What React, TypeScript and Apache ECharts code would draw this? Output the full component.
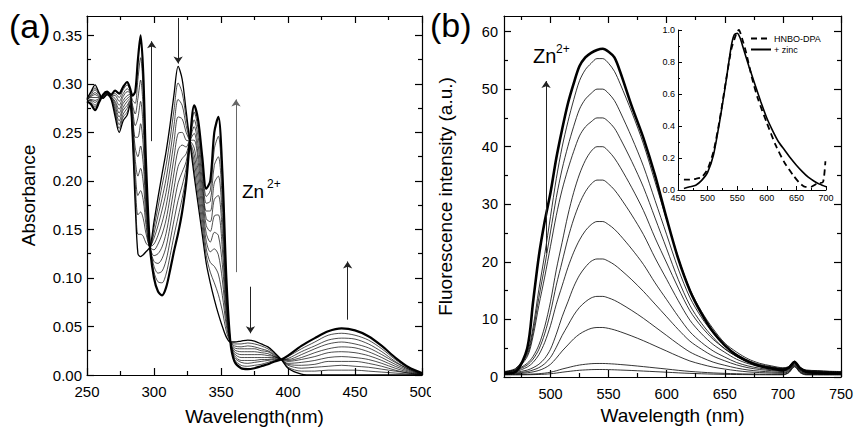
import { useEffect, useRef } from "react";
import * as echarts from "echarts";

const FONT = "'Liberation Sans', Arial, Helvetica, sans-serif";

// ---------- Panel (a): absorbance titration ----------
const absWavelengths = [250,253,256,259,262,265,268,271,274,277,280,282,284,286,288,290,292,294,297,300,303,306,309,312,315,318,321,324,327,330,333,336,339,342,345,348,351,354,357,360,365,370,375,380,385,390,395,400,410,420,430,440,450,460,470,480,490,500];
const absInitial = [.285,.292,.299,.291,.285,.289,.284,.266,.250,.262,.268,.278,.240,.175,.125,.122,.124,.127,.132,.158,.183,.207,.230,.258,.290,.318,.305,.272,.238,.205,.175,.145,.115,.095,.078,.063,.050,.039,.034,.034,.035,.036,.035,.032,.029,.023,.016,.007,.001,0,0,0,0,0,0,0,0,0];
const absStep1 = [.285,.291,.296,.290,.285,.289,.285,.269,.254,.266,.271,.280,.245,.187,.145,.145,.143,.136,.132,.152,.173,.195,.216,.243,.274,.301,.291,.265,.239,.212,.184,.153,.123,.106,.095,.083,.066,.045,.034,.032,.032,.033,.032,.030,.027,.022,.016,.008,.004,.004,.005,.005,.005,.004,.003,.002,.001,0];
const absStep2 = [.284,.289,.294,.289,.286,.290,.285,.271,.258,.269,.275,.282,.250,.198,.165,.168,.161,.146,.132,.146,.164,.182,.202,.228,.258,.284,.278,.257,.239,.220,.192,.161,.130,.116,.112,.104,.082,.051,.034,.030,.029,.030,.029,.027,.025,.021,.016,.010,.007,.008,.009,.010,.009,.008,.006,.004,.002,0];
const absStep3 = [.284,.288,.291,.288,.286,.290,.286,.274,.262,.273,.278,.283,.254,.210,.185,.190,.180,.155,.132,.141,.154,.170,.188,.213,.241,.266,.264,.250,.240,.227,.201,.169,.138,.127,.130,.124,.098,.057,.034,.028,.027,.027,.027,.025,.024,.020,.016,.011,.010,.011,.014,.014,.014,.012,.009,.005,.002,.001];
const absStep4 = [.284,.287,.289,.287,.287,.290,.286,.277,.266,.276,.282,.285,.259,.222,.205,.213,.198,.164,.132,.135,.144,.157,.174,.198,.225,.249,.250,.242,.241,.234,.210,.177,.146,.137,.147,.144,.114,.063,.034,.026,.024,.024,.024,.023,.022,.019,.016,.012,.013,.015,.018,.019,.018,.016,.012,.007,.003,.001];
const absStep5 = [.284,.286,.286,.286,.287,.291,.287,.280,.270,.280,.285,.287,.264,.234,.225,.236,.217,.174,.132,.129,.135,.145,.160,.183,.209,.232,.237,.235,.242,.242,.219,.185,.154,.148,.164,.165,.130,.070,.034,.024,.021,.021,.021,.021,.020,.019,.016,.014,.016,.019,.023,.024,.023,.020,.015,.009,.004,.001];
const absStep6 = [.283,.284,.283,.285,.287,.291,.287,.282,.274,.283,.288,.289,.269,.245,.245,.259,.236,.183,.132,.123,.125,.132,.146,.168,.193,.215,.223,.228,.242,.249,.227,.193,.161,.158,.181,.185,.146,.076,.034,.022,.018,.018,.018,.018,.018,.018,.016,.015,.018,.023,.027,.029,.028,.024,.018,.011,.005,.001];
const absStep7 = [.283,.283,.281,.284,.288,.291,.288,.285,.278,.287,.292,.291,.274,.257,.265,.282,.254,.192,.132,.117,.115,.120,.132,.153,.177,.198,.209,.220,.243,.256,.236,.201,.169,.169,.198,.205,.162,.082,.034,.020,.015,.015,.015,.016,.016,.017,.016,.016,.021,.027,.032,.034,.032,.028,.021,.013,.006,.001];
const absStep8 = [.283,.282,.278,.283,.288,.291,.288,.288,.282,.290,.295,.292,.278,.269,.285,.304,.273,.201,.132,.112,.105,.107,.118,.138,.160,.180,.195,.213,.244,.263,.245,.209,.177,.179,.216,.225,.178,.088,.034,.018,.013,.012,.013,.014,.015,.016,.016,.017,.024,.030,.036,.038,.037,.032,.024,.014,.006,.002];
const absStep9 = [.282,.280,.276,.282,.289,.292,.289,.290,.286,.294,.299,.294,.283,.280,.305,.327,.291,.211,.132,.106,.096,.095,.104,.123,.144,.163,.182,.205,.244,.271,.253,.217,.184,.190,.233,.246,.194,.094,.034,.016,.010,.009,.010,.011,.013,.015,.016,.019,.027,.034,.041,.043,.041,.036,.027,.016,.007,.002];
const absFinal = [.282,.279,.273,.281,.289,.292,.289,.293,.290,.297,.302,.296,.288,.292,.325,.350,.310,.220,.132,.100,.086,.082,.090,.108,.128,.146,.168,.198,.245,.278,.262,.225,.192,.200,.250,.266,.210,.100,.034,.014,.007,.006,.007,.009,.011,.014,.016,.020,.030,.038,.045,.048,.046,.040,.030,.018,.008,.002];
// arrows: [wavelength, from, to]
const absArrows = [[298.3,0.241,0.344],[318,0.368,0.321],[372,0.091,0.043],[444.5,0.057,0.117]];
const absZnArrow = [361.2,0.106,0.284];

const absXMajor = [250,300,350,400,450,500];
const absXMinor = [275,325,375,425,475];
const absYMajor = [0,0.05,0.1,0.15,0.2,0.25,0.3,0.35];
const absYMinor = [0.025,0.075,0.125,0.175,0.225,0.275,0.325];

// ---------- Panel (b): fluorescence titration ----------
const fluorWavelengths = [460,470,480,485,490,495,500,505,510,515,520,525,530,535,540,545,550,555,560,570,580,590,600,610,620,630,640,650,660,670,680,690,700,705,710,715,720,730,740,750];
const fluor1 = [0.36,0.37,0.39,0.41,0.44,0.48,0.56,0.68,0.83,0.95,1.07,1.17,1.23,1.28,1.30,1.30,1.28,1.25,1.21,1.13,1.03,0.93,0.83,0.72,0.63,0.56,0.50,0.46,0.43,0.41,0.39,0.38,0.38,0.72,1.77,0.72,0.37,0.36,0.36,0.36];
const fluor2 = [0.42,0.44,0.48,0.52,0.58,0.67,0.83,1.08,1.38,1.63,1.88,2.08,2.21,2.31,2.35,2.35,2.31,2.25,2.17,2.00,1.80,1.59,1.38,1.16,0.97,0.83,0.71,0.63,0.57,0.52,0.49,0.47,0.45,0.80,1.84,0.79,0.44,0.43,0.42,0.42];
const fluor3 = [0.48,0.56,0.73,0.89,1.14,1.55,2.20,3.27,4.50,5.57,6.63,7.45,8.03,8.44,8.60,8.60,8.44,8.19,7.86,7.12,6.30,5.40,4.50,3.60,2.78,2.20,1.71,1.38,1.10,0.89,0.77,0.69,0.63,0.96,1.98,0.91,0.55,0.52,0.50,0.48];
const fluor4 = [0.54,0.67,0.94,1.22,1.62,2.30,3.39,5.16,7.20,8.97,10.74,12.10,13.05,13.73,14.00,14.00,13.73,13.32,12.78,11.55,10.19,8.70,7.20,5.70,4.34,3.39,2.58,2.03,1.56,1.22,1.01,0.88,0.78,1.09,2.10,1.02,0.64,0.60,0.56,0.54];
const fluor5 = [0.60,0.80,1.20,1.61,2.21,3.21,4.82,7.44,10.45,13.06,15.68,17.69,19.09,20.10,20.50,20.50,20.10,19.50,18.69,16.88,14.87,12.66,10.45,8.24,6.23,4.82,3.62,2.81,2.11,1.61,1.30,1.10,0.96,1.25,2.24,1.15,0.76,0.70,0.64,0.60];
const fluor6 = [0.67,0.93,1.73,2.53,3.86,5.99,8.91,12.64,15.83,19.02,21.68,23.81,25.40,26.47,27.00,27.00,26.47,25.67,24.61,22.21,19.55,16.36,13.43,10.51,7.85,5.99,4.52,3.46,2.53,1.92,1.52,1.25,1.09,1.36,2.33,1.23,0.83,0.75,0.69,0.67];
const fluor7 = [0.74,1.08,2.09,3.10,4.79,7.50,11.22,15.95,20.00,24.06,27.44,30.14,32.17,33.52,34.20,34.20,33.52,32.51,31.16,28.12,24.74,20.68,16.96,13.24,9.86,7.50,5.64,4.29,3.10,2.33,1.82,1.48,1.28,1.53,2.48,1.36,0.94,0.84,0.77,0.74];
const fluor8 = [0.80,1.19,2.38,3.57,5.55,8.72,13.07,18.62,23.37,28.12,32.08,35.25,37.62,39.21,40.00,40.00,39.21,38.02,36.44,32.87,28.91,24.16,19.80,15.45,11.49,8.72,6.54,4.95,3.57,2.66,2.06,1.67,1.43,1.66,2.59,1.46,1.03,0.91,0.84,0.80];
const fluor9 = [0.85,1.29,3.52,7.09,12.44,17.35,22.70,28.05,32.51,36.08,39.20,41.88,43.44,44.33,45.00,45.00,44.33,43.22,41.43,37.42,32.96,27.61,22.25,16.90,12.44,9.32,6.87,4.86,3.61,2.63,2.01,1.65,1.38,1.64,2.60,1.46,1.07,0.98,0.89,0.85];
const fluor10 = [0.90,1.39,3.87,7.84,13.79,19.25,25.20,31.15,36.11,40.08,43.55,46.53,48.26,49.26,50.00,50.00,49.26,48.02,46.03,41.57,36.61,30.66,24.70,18.75,13.79,10.32,7.59,5.36,3.97,2.88,2.19,1.79,1.49,1.74,2.69,1.54,1.14,1.04,0.95,0.90];
const fluor11 = [0.95,1.50,4.24,8.64,15.22,21.26,27.85,34.44,39.93,44.32,48.16,51.46,53.38,54.48,55.30,55.30,54.48,53.10,50.91,45.97,40.48,33.89,27.30,20.71,15.22,11.38,8.36,5.89,4.35,3.15,2.38,1.94,1.61,1.80,2.79,1.63,1.22,1.11,1.00,0.95];
const fluorTop = [0.6,0.9,5.0,13.0,21.0,27.0,32.0,38.0,43.0,47.5,51.0,54.0,55.5,56.3,56.8,57.0,56.5,55.5,53.0,47.0,41.5,35.0,27.5,20.5,15.0,11.0,7.8,5.5,3.8,2.7,1.9,1.5,1.2,1.6,2.6,1.5,0.9,0.7,0.6,0.6];
const fluorZnArrow = [496.2,21.5,51.4];

const fluorXMajor = [500,550,600,650,700,750];
const fluorXMinor = [475,525,575,625,675,725];
const fluorYMajor = [0,10,20,30,40,50,60];
const fluorYMinor = [5,15,25,35,45,55];

// ---------- Inset: normalized spectra ----------
const zincWavelengths = [460,470,480,490,500,510,520,530,540,545,550,555,560,570,580,590,600,610,620,630,640,650,660,670,680,690,700];
const zincNorm = [0.01,0.02,0.03,0.06,0.11,0.22,0.42,0.65,0.90,0.97,0.98,0.95,0.89,0.77,0.66,0.55,0.45,0.37,0.30,0.25,0.20,0.155,0.115,0.08,0.055,0.035,0.02];
const hnboWavelengths = [460,470,480,490,500,510,520,530,540,545,550,553,558,565,575,585,600,615,630,645,655,665,675,685,695,699];
const hnboNorm = [0.065,0.065,0.07,0.08,0.13,0.24,0.43,0.66,0.88,0.94,0.99,1.0,0.95,0.86,0.70,0.57,0.42,0.28,0.17,0.09,0.045,0.02,0.02,0.04,0.05,0.18];

const absSteps = [absStep1,absStep2,absStep3,absStep4,absStep5,absStep6,absStep7,absStep8,absStep9];
const fluorSteps = [fluor1,fluor2,fluor3,fluor4,fluor5,fluor6,fluor7,fluor8,fluor9,fluor10,fluor11];

function pairs(xs: number[], ys: number[]) {
  return xs.map((x, i) => [x, ys[i]]);
}

function line(name: string, xs: number[], ys: number[], axis: number, width: number, extra: any = {}) {
  return {
    type: "line",
    name,
    xAxisIndex: axis,
    yAxisIndex: axis,
    data: pairs(xs, ys),
    symbol: "none",
    showSymbol: false,
    smooth: 0.3,
    silent: true,
    z: width > 1.5 ? 4 : 3,
    itemStyle: { color: "#000" },
    lineStyle: { color: "#000", width, type: "solid" },
    ...extra,
  };
}

const grids = {
  a: { left: 87, top: 16, width: 335, height: 359 },
  b: { left: 504, top: 16, width: 337, height: 361 },
  inset: { left: 678, top: 30, width: 148, height: 160 },
};

function frameAxis(gridIndex: number, position: string, min: number, max: number, ticks: number[], tickLen: number, labels: any, lineShow: boolean, extra: any = {}) {
  return {
    type: "value",
    gridIndex,
    position,
    min,
    max,
    splitLine: { show: false },
    axisLine: { show: lineShow, onZero: false, lineStyle: { color: "#000", width: 1.2 } },
    axisTick: { show: true, inside: true, length: tickLen, customValues: ticks, lineStyle: { color: "#000", width: 1.2 } },
    axisLabel: labels
      ? { show: true, customValues: ticks, color: "#000", fontFamily: FONT, ...labels }
      : { show: false },
    ...extra,
  };
}

function buildOption() {
  const absSeries: any[] = [];
  absSeries.push(line("abs-initial", absWavelengths, absInitial, 0, 1.3));
  absSteps.forEach((s, i) => absSeries.push(line("abs-step" + (i + 1), absWavelengths, s, 0, 0.7)));
  const arrowData: any[] = absArrows.map((a) => [
    { coord: [a[0], a[1]] },
    { coord: [a[0], a[2]] },
  ]);
  arrowData.push([
    { coord: [absZnArrow[0], absZnArrow[1]], lineStyle: { color: "#666" } },
    { coord: [absZnArrow[0], absZnArrow[2]] },
  ]);
  absSeries.push(
    line("abs-final", absWavelengths, absFinal, 0, 2.2, {
      markLine: {
        silent: true,
        symbol: ["none", "arrow"],
        symbolSize: 7,
        label: { show: false },
        lineStyle: { color: "#222", width: 1, type: "solid" },
        data: arrowData,
      },
    })
  );

  const fluorSeries: any[] = fluorSteps.map((s, i) => line("fl-" + (i + 1), fluorWavelengths, s, 4, 0.8));
  fluorSeries.push(
    line("fl-top", fluorWavelengths, fluorTop, 4, 2.6, {
      markLine: {
        silent: true,
        symbol: ["none", "arrow"],
        symbolSize: 7,
        label: { show: false },
        lineStyle: { color: "#222", width: 1, type: "solid" },
        data: [[{ coord: [fluorZnArrow[0], fluorZnArrow[1]] }, { coord: [fluorZnArrow[0], fluorZnArrow[2]] }]],
      },
    })
  );

  const insetSeries = [
    line("HNBO-DPA", hnboWavelengths, hnboNorm, 8, 1.8, { smooth: 0.2, lineStyle: { color: "#000", width: 1.8, type: [6, 4] } }),
    line("+ zinc", zincWavelengths, zincNorm, 8, 1.6, { smooth: 0.2 }),
  ];

  const labA = { fontSize: 15 };
  const nameStyle = { fontSize: 19, color: "#000", fontFamily: FONT };

  return {
    animation: false,
    backgroundColor: "#fff",
    textStyle: { fontFamily: FONT },
    grid: [
      { ...grids.a, outerBoundsMode: "none", containLabel: false },
      { ...grids.a, outerBoundsMode: "none", containLabel: false },
      { ...grids.b, outerBoundsMode: "none", containLabel: false },
      { ...grids.b, outerBoundsMode: "none", containLabel: false },
      { ...grids.inset, outerBoundsMode: "none", containLabel: false },
    ],
    xAxis: [
      frameAxis(0, "bottom", 250, 500, absXMajor, 7, { ...labA, margin: 9 }, true, {
        name: "Wavelength(nm)", nameLocation: "middle", nameGap: 32, nameTextStyle: nameStyle,
      }),
      frameAxis(0, "top", 250, 500, absXMajor, 7, null, true),
      frameAxis(1, "bottom", 250, 500, absXMinor, 4, null, false),
      frameAxis(1, "top", 250, 500, absXMinor, 4, null, false),
      frameAxis(2, "bottom", 460, 750, fluorXMajor, 7, { fontSize: 14.5, margin: 9 }, true, {
        name: "Wavelength (nm)", nameLocation: "middle", nameGap: 22, nameTextStyle: nameStyle,
      }),
      frameAxis(2, "top", 460, 750, fluorXMajor, 7, null, true),
      frameAxis(3, "bottom", 460, 750, fluorXMinor, 4, null, false),
      frameAxis(3, "top", 460, 750, fluorXMinor, 4, null, false),
      {
        type: "value", gridIndex: 4, position: "bottom", min: 450, max: 700, interval: 50,
        splitLine: { show: false },
        axisLine: { onZero: false, lineStyle: { color: "#000", width: 1 } },
        axisTick: { inside: true, length: 4, lineStyle: { color: "#000" } },
        minorTick: { show: true, splitNumber: 2, length: 2, lineStyle: { color: "#000" } },
        axisLabel: { fontSize: 9, color: "#000", margin: 3, fontFamily: FONT },
      },
    ],
    yAxis: [
      frameAxis(0, "left", 0, 0.37, absYMajor, 7, { ...labA, margin: 5, formatter: (v: number) => v.toFixed(2) }, true, {
        name: "Absorbance", nameLocation: "middle", nameGap: 49, nameTextStyle: nameStyle,
      }),
      frameAxis(0, "right", 0, 0.37, absYMajor, 7, null, true),
      frameAxis(1, "left", 0, 0.37, absYMinor, 4, null, false),
      frameAxis(1, "right", 0, 0.37, absYMinor, 4, null, false),
      frameAxis(2, "left", 0, 62.7, fluorYMajor, 7, { fontSize: 14.5, margin: 6 }, true, {
        name: "Fluorescence intensity (a.u.)", nameLocation: "middle", nameGap: 49, nameTextStyle: nameStyle,
      }),
      frameAxis(2, "right", 0, 62.7, fluorYMajor, 7, null, true),
      frameAxis(3, "left", 0, 62.7, fluorYMinor, 4, null, false),
      frameAxis(3, "right", 0, 62.7, fluorYMinor, 4, null, false),
      {
        type: "value", gridIndex: 4, position: "left", min: 0, max: 1.0, interval: 0.2,
        splitLine: { show: false },
        axisLine: { onZero: false, lineStyle: { color: "#000", width: 1 } },
        axisTick: { inside: true, length: 4, lineStyle: { color: "#000" } },
        minorTick: { show: true, splitNumber: 2, length: 2, lineStyle: { color: "#000" } },
        axisLabel: { fontSize: 9, color: "#000", margin: 3, fontFamily: FONT, formatter: (v: number) => v.toFixed(1) },
      },
    ],
    legend: {
      data: ["HNBO-DPA", "+ zinc"],
      left: 750,
      top: 34,
      orient: "vertical",
      itemWidth: 20,
      itemHeight: 8,
      itemGap: 2,
      padding: 0,
      selectedMode: false,
      itemStyle: { opacity: 0 },
      lineStyle: { color: "#000" },
      textStyle: { fontSize: 9, color: "#000", fontFamily: FONT, padding: [0, 0, 0, -2] },
    },
    series: [...absSeries, ...fluorSeries, ...insetSeries],
    graphic: [
      { type: "text", left: 9, top: 9, z: 50, style: { text: "(a)", font: `34px ${FONT}`, fill: "#000" } },
      { type: "text", left: 430, top: 8, z: 50, style: { text: "(b)", font: `34px ${FONT}`, fill: "#000" } },
      { type: "text", left: 242, top: 182, z: 50, style: { text: "Zn", font: `19px ${FONT}`, fill: "#000" } },
      { type: "text", left: 267, top: 178, z: 50, style: { text: "2+", font: `12px ${FONT}`, fill: "#000" } },
      { type: "text", left: 533, top: 46, z: 50, style: { text: "Zn", font: `20px ${FONT}`, fill: "#000" } },
      { type: "text", left: 556, top: 43, z: 50, style: { text: "2+", font: `12px ${FONT}`, fill: "#000" } },
      { type: "rect", z: 100, shape: { x: 431, y: 382, width: 14, height: 18 }, style: { fill: "#fff" } },
    ],
  };
}

export default function App() {
  const ref = useRef<HTMLDivElement>(null);
  useEffect(() => {
    if (!ref.current) return;
    const chart = echarts.init(ref.current, null, { renderer: "svg" });
    chart.setOption(buildOption() as any);
    return () => chart.dispose();
  }, []);
  return (
    <div
      ref={ref}
      style={{ position: "fixed", left: 0, top: 0, width: 855, height: 427, background: "#fff" }}
    />
  );
}
